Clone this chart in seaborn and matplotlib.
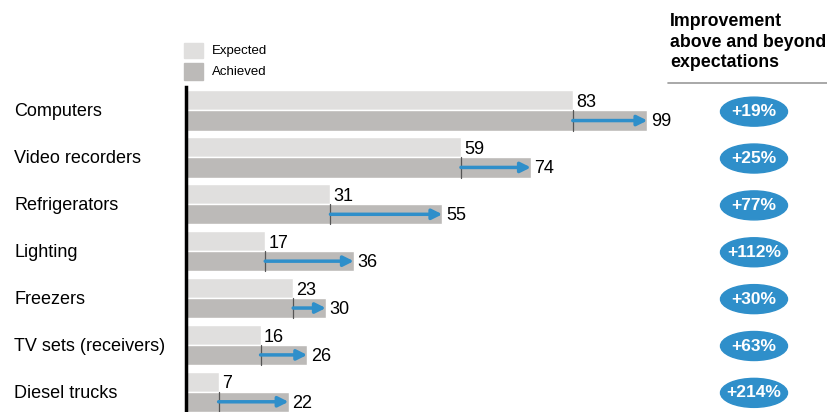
import pandas as pd
import numpy as np
import matplotlib.pyplot as plt
import seaborn as sns
from matplotlib.patches import Rectangle, Ellipse
from matplotlib.lines import Line2D
from matplotlib.transforms import blended_transform_factory

# data
categories = ['Computers', 'Video recorders', 'Refrigerators', 'Lighting',
              'Freezers', 'TV sets (receivers)', 'Diesel trucks']
expected = [83, 59, 31, 17, 23, 16, 7]
achieved = [99, 74, 55, 36, 30, 26, 22]
improvement = ['+19%', '+25%', '+77%', '+112%', '+30%', '+63%', '+214%']

# colours
c_exp = '#e0dfde'
c_ach = '#bcbab8'
c_blue = '#2f8fca'

sns.set_style('white')
plt.rcParams['font.family'] = ['Liberation Sans', 'DejaVu Sans']
plt.rcParams['text.color'] = 'black'

# long-form table for seaborn
df = pd.DataFrame({
    'category': categories * 2,
    'value': expected + achieved,
    'kind': ['Expected'] * len(categories) + ['Achieved'] * len(categories),
})

fig = plt.figure(figsize=(8.27, 4.12), dpi=100)
W, H = 827, 412
ax = fig.add_axes([186 / W, 0, 1 - 186 / W, (H - 87) / H])

sns.barplot(data=df, y='category', x='value', hue='kind', orient='h',
            palette=[c_exp, c_ach], width=0.86, gap=0, legend=False,
            saturation=1, ax=ax)

row_px = 46.87
ax.set_xlim(0, (W - 186) / 4.66)
ax.set_ylim(-0.501 + 325 / row_px, -0.501)
ax.set_xlabel('')
ax.set_ylabel('')
ax.set_xticks([])
ax.set_yticks([])
for s in ['top', 'right', 'bottom']:
    ax.spines[s].set_visible(False)
ax.spines['left'].set_linewidth(2.5)
ax.spines['left'].set_color('black')

half = 0.215
fig_y = blended_transform_factory(fig.transFigure, ax.transData)

for i, (cat, e, a, imp) in enumerate(zip(categories, expected, achieved, improvement)):
    # value labels
    ax.text(e + 0.7, i - half + 0.05, str(e), va='center', ha='left', fontsize=13)
    ax.text(a + 0.8, i + half + 0.03, str(a), va='center', ha='left', fontsize=13)
    # tick at expected level and arrow to achieved
    ax.plot([e, e], [i, i + 2 * half], color='#555555', lw=0.9)
    ax.annotate('', xy=(a, i + half), xytext=(e, i + half),
                arrowprops=dict(arrowstyle='-|>', color=c_blue, lw=2.5,
                                mutation_scale=15, shrinkA=0, shrinkB=0))
    # category label
    ax.text(14 / W, i + 0.03, cat, transform=fig_y, va='center', ha='left', fontsize=13)
    # improvement badge
    ax.add_patch(Ellipse((754 / W, i + 0.025), 67 / W, 29 / row_px,
                         transform=fig_y, color=c_blue, clip_on=False))
    ax.text(754 / W, i + 0.025, imp, transform=fig_y, va='center', ha='center',
            fontsize=12.5, fontweight='bold', color='white')

# legend
fig.patches.append(Rectangle((184 / W, 1 - 58 / H), 19 / W, 15 / H,
                             transform=fig.transFigure, color=c_exp))
fig.patches.append(Rectangle((184 / W, 1 - 80 / H), 19 / W, 17 / H,
                             transform=fig.transFigure, color=c_ach))
fig.text(212 / W, 1 - 51 / H, 'Expected', va='center', fontsize=9.5)
fig.text(212 / W, 1 - 72 / H, 'Achieved', va='center', fontsize=9.5)

# header on the right
fig.text(670 / W, 1 - 13 / H, 'Improvement\nabove and beyond\nexpectations',
         va='top', ha='left', fontsize=12.8, fontweight='bold', linespacing=1.28)
fig.lines.append(Line2D([668 / W, 1], [1 - 83 / H, 1 - 83 / H],
                        transform=fig.transFigure, color='#999999', lw=1.2))

plt.savefig('out.png', dpi=100)
